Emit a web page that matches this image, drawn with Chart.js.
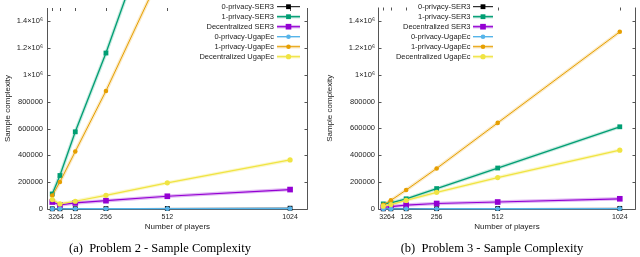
<!DOCTYPE html>
<html><head><meta charset="utf-8">
<script src="https://cdn.jsdelivr.net/npm/chart.js@4.4.1/dist/chart.umd.min.js"></script>
<style>
html,body{margin:0;padding:0;background:#fff;}
#wrap{position:relative;width:640px;height:257px;overflow:hidden;background:#fff;}
.cv{position:absolute;top:0;width:320px;height:257px;}
.cap{position:absolute;top:241px;font-family:"Liberation Serif","Times New Roman",serif;font-size:12.5px;line-height:14px;color:#000;white-space:pre;transform:translateX(-50%);}
</style></head><body>
<div id="wrap">
<div class="cv" style="left:0"><canvas id="c1" width="320" height="257"></canvas></div>
<div class="cv" style="left:320px"><canvas id="c2" width="320" height="257"></canvas></div>
<div class="cap" style="left:160px">(a)  Problem 2 - Sample Complexity</div>
<div class="cap" style="left:492px">(b)  Problem 3 - Sample Complexity</div>
</div>
<script>
// ---- data ----
const players = [32, 64, 128, 256, 512, 1024];
const yTicks = [0, 200000, 400000, 600000, 800000, 1000000, 1200000, 1400000];
const seriesNames = ['0-privacy-SER3', '1-privacy-SER3', 'Decentralized SER3',
                     '0-privacy-UgapEc', '1-privacy-UgapEc', 'Decentralized UgapEc'];
const xTitle = 'Number of players';
const yTitle = 'Sample complexity';

// Problem 2
const p2Ser3Priv0 = [1500, 1800, 2300, 3000, 4200, 6000];
const p2Ser3Priv1 = [112000, 250000, 576000, 1164000, 2450000, 4900000];
const p2Ser3Dec   = [52000, 30000, 45000, 62000, 95000, 145000];
const p2UgapPriv0 = [900, 1100, 1400, 1900, 2600, 3600];
const p2UgapPriv1 = [100000, 202000, 429000, 881000, 1860000, 3750000];
const p2UgapDec   = [70000, 38000, 58000, 102000, 195000, 366000];

// Problem 3
const p3Ser3Priv0 = [1200, 1500, 1900, 2500, 3400, 4800];
const p3Ser3Priv1 = [38000, 45000, 76000, 152000, 305000, 612000];
const p3Ser3Dec   = [12000, 17000, 29000, 41000, 52000, 76000];
const p3UgapPriv0 = [700, 900, 1100, 1500, 2000, 2800];
const p3UgapPriv1 = [32000, 64000, 141000, 302000, 641000, 1319000];
const p3UgapDec   = [21000, 33000, 64000, 124000, 234000, 438000];

// ---- styles ----
const styles = [
  {color:'#000000', band:null,                     ps:'rect',   r:3.4, w:1.0},
  {color:'#009e73', band:'rgba(0,158,115,0.22)',   ps:'rect',   r:3.4, w:1.3},
  {color:'#9400d3', band:'rgba(148,0,211,0.28)',   ps:'rect',   r:4.0, w:1.2},
  {color:'#56b4e9', band:null,                     ps:'circle', r:2.3, w:1.4},
  {color:'#e69f00', band:'rgba(230,159,0,0.22)',   ps:'circle', r:2.3, w:1.0},
  {color:'#f0e442', band:'rgba(240,228,66,0.28)',  ps:'circle', r:2.6, w:1.2}
];
const SANS = '"Liberation Sans", Arial, Helvetica, sans-serif';

function makeDatasets(arrs){
  const ds = [];
  arrs.forEach((arr, i) => {
    const st = styles[i];
    const pts = arr.map((v, k) => ({x: players[k], y: v}));
    if (st.band) {
      ds.push({label: seriesNames[i] + ' band', isBand: true, data: pts,
        borderColor: st.band, borderWidth: 3.5, pointRadius: 0, fill: false,
        tension: 0, clip: false, order: 100 + i});
    }
    ds.push({label: seriesNames[i], isBand: false, styleIdx: i, data: pts,
      borderColor: st.color, backgroundColor: st.color, borderWidth: st.w,
      pointStyle: st.ps, pointRadius: st.r, pointBorderWidth: 0,
      pointBackgroundColor: st.color, fill: false, tension: 0, clip: false,
      order: 10 - i});
  });
  return ds;
}

const framePlugin = {
  id: 'frame',
  beforeDatasetsDraw(chart){
    const {ctx, chartArea: a, scales: {x, y}} = chart;
    ctx.save();
    ctx.strokeStyle = '#555';
    ctx.lineWidth = 1;
    const L = Math.round(a.left) + 0.5, R = Math.round(a.right) - 0.5, B = Math.round(a.bottom) + 0.5, T = a.top;
    ctx.beginPath();
    ctx.moveTo(L, T); ctx.lineTo(L, B); ctx.lineTo(R, B); ctx.lineTo(R, T);
    yTicks.forEach(v => {
      const py = Math.round(y.getPixelForValue(v)) + 0.5;
      ctx.moveTo(L, py); ctx.lineTo(L + 3, py);
      ctx.moveTo(R, py); ctx.lineTo(R - 3, py);
    });
    players.forEach(v => {
      const px = Math.round(x.getPixelForValue(v)) + 0.5;
      ctx.moveTo(px, B); ctx.lineTo(px, B - 3);
      ctx.moveTo(px, T); ctx.lineTo(px, T + 3);
    });
    ctx.stroke();
    ctx.restore();
  }
};

const legendPlugin = {
  id: 'gpLegend',
  afterDraw(chart, args, opts){
    const {ctx} = chart;
    ctx.save();
    ctx.font = '7.5px ' + SANS;
    ctx.textAlign = 'right';
    ctx.textBaseline = 'middle';
    const mains = chart.data.datasets.filter(d => !d.isBand);
    mains.forEach((d, i) => {
      const st = styles[d.styleIdx];
      const yy = opts.y0 + i * opts.dy;
      ctx.fillStyle = '#222';
      ctx.fillText(d.label, opts.xr, yy);
      if (st.band) {
        ctx.strokeStyle = st.band; ctx.lineWidth = 3.5;
        ctx.beginPath(); ctx.moveTo(opts.x1, yy); ctx.lineTo(opts.x2, yy); ctx.stroke();
      }
      ctx.strokeStyle = st.color; ctx.lineWidth = st.w;
      ctx.beginPath(); ctx.moveTo(opts.x1, yy); ctx.lineTo(opts.x2, yy); ctx.stroke();
      const cx = (opts.x1 + opts.x2) / 2;
      ctx.fillStyle = st.color;
      if (st.ps === 'rect') {
        const s = st.r * Math.SQRT1_2;
        ctx.fillRect(cx - s, yy - s, 2 * s, 2 * s);
      } else {
        ctx.beginPath(); ctx.arc(cx, yy, st.r, 0, Math.PI * 2); ctx.fill();
      }
    });
    ctx.restore();
  }
};

function yLabel(v){
  if (v >= 1000000) return (v / 1000000) + '\u00d710\u2076';
  return String(v);
}

function build(id, arrs, cfg){
  new Chart(document.getElementById(id), {
    type: 'line',
    data: {datasets: makeDatasets(arrs)},
    plugins: [framePlugin, legendPlugin],
    options: {
      responsive: false, animation: false, events: [],
      layout: {padding: {left: 0, right: cfg.padRight, top: 0, bottom: 18}},
      plugins: {legend: {display: false}, tooltip: {enabled: false},
        gpLegend: cfg.legend},
      scales: {
        x: {type: 'linear', min: cfg.xmin, max: cfg.xmax,
          afterBuildTicks: s => { s.ticks = players.map(v => ({value: v})); },
          afterFit: s => { s.height = 30; },
          grid: {display: false, drawTicks: false}, border: {display: false},
          ticks: {autoSkip: false, maxRotation: 0, padding: 3.5, color: '#222',
            font: {size: 7, family: SANS}, callback: v => String(v)},
          title: {display: true, text: xTitle, color: '#222',
            font: {size: 8, family: SANS}, padding: {top: 0, bottom: 7.2}}
        },
        y: {type: 'linear', min: 0, max: 1500000,
          afterBuildTicks: s => { s.ticks = yTicks.map(v => ({value: v})); },
          afterFit: s => { s.width = cfg.yWidth; },
          grid: {display: false, drawTicks: false}, border: {display: false},
          ticks: {padding: cfg.yPad, color: '#222',
            font: {size: 7.5, family: SANS}, callback: v => yLabel(v)},
          title: {display: true, text: yTitle, color: '#222',
            font: {size: 8, family: SANS}, padding: {top: cfg.yTitlePad, bottom: 0}}
        }
      }
    }
  });
}

build('c1', [p2Ser3Priv0, p2Ser3Priv1, p2Ser3Dec, p2UgapPriv0, p2UgapPriv1, p2UgapDec], {
  xmin: 8, xmax: 1100, padRight: 11.7, yWidth: 46.5, yPad: 3.5, yTitlePad: 3.2,
  legend: {xr: 274, x1: 277, x2: 300, y0: 6.7, dy: 10}
});
build('c2', [p3Ser3Priv0, p3Ser3Priv1, p3Ser3Dec, p3UgapPriv0, p3UgapPriv1, p3UgapDec], {
  xmin: 10, xmax: 1092, padRight: 2, yWidth: 58, yPad: 3, yTitlePad: 5.2,
  legend: {xr: 150.5, x1: 153, x2: 173, y0: 6.7, dy: 10}
});
</script>
</body></html>
